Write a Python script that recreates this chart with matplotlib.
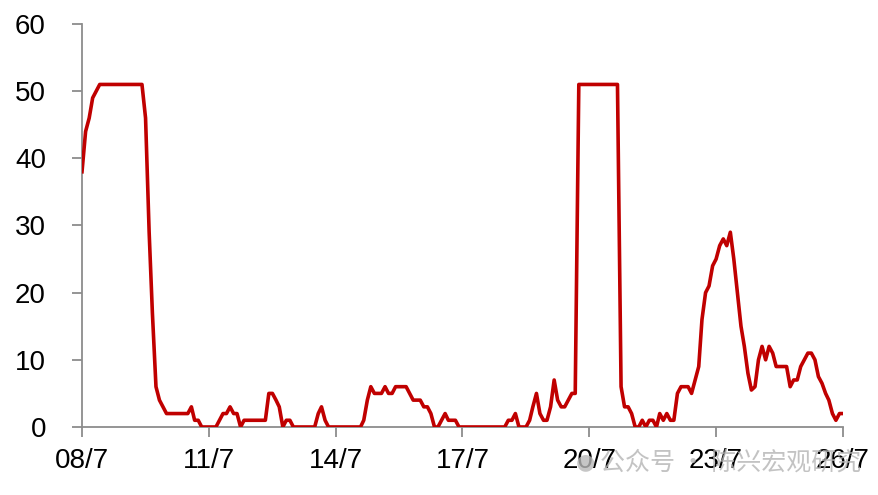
import matplotlib
matplotlib.use('Agg')
import matplotlib.pyplot as plt
import numpy as np
import pandas as pd

# monthly series, 2008-07 .. 2026-07
months = pd.date_range('2008-07-01', '2026-07-01', freq='MS')
values = [
    38, 44, 46, 49, 50, 51, 51, 51, 51, 51, 51, 51, 51, 51, 51, 51,
    51, 51, 46, 29, 17, 6, 4, 3, 2, 2, 2, 2, 2, 2, 2, 3,
    1, 1, 0, 0, 0, 0, 0, 1, 2, 2, 3, 2, 2, 0, 1, 1,
    1, 1, 1, 1, 1, 5, 5, 4, 3, 0, 1, 1, 0, 0, 0, 0,
    0, 0, 0, 2, 3, 1, 0, 0, 0, 0, 0, 0, 0, 0, 0, 0,
    1, 4, 6, 5, 5, 5, 6, 5, 5, 6, 6, 6, 6, 5, 4, 4,
    4, 3, 3, 2, 0, 0, 1, 2, 1, 1, 1, 0, 0, 0, 0, 0,
    0, 0, 0, 0, 0, 0, 0, 0, 0, 1, 1, 2, 0, 0, 0, 1,
    3, 5, 2, 1, 1, 3, 7, 4, 3, 3, 4, 5, 5, 51, 51, 51,
    51, 51, 51, 51, 51, 51, 51, 51, 51, 6, 3, 3, 2, 0,
    0, 1, 0, 1, 1, 0, 2, 1, 2, 1, 1, 5, 6, 6, 6, 5,
    7, 9, 16, 20, 21, 24, 25, 27, 28, 27, 29, 25, 20, 15, 12, 8,
    5.5, 6, 10, 12, 10, 12, 11, 9, 9, 9, 9, 6, 7, 7, 9, 10,
    11, 11, 10, 7.5, 6.5, 5, 4, 2, 1, 2, 2,
]

tick_dates = pd.to_datetime(['2008-07-01', '2011-07-01', '2014-07-01', '2017-07-01',
                             '2020-07-01', '2023-07-01', '2026-07-01'])
tick_labels = ['08/7', '11/7', '14/7', '17/7', '20/7', '23/7', '26/7']
y_ticks = [0, 10, 20, 30, 40, 50, 60]

plt.rcParams['font.family'] = ['Liberation Sans', 'DejaVu Sans']

fig = plt.figure(figsize=(8.79, 4.95), dpi=100)
ax = fig.add_axes([0.0933, 0.1374, 0.8657, 0.8141])

ax.plot(months[:len(values)], values, color='#C00000', lw=2.6, solid_joinstyle='round')

ax.set_xlim(tick_dates[0], tick_dates[-1])
ax.set_ylim(0, 60)
ax.set_xticks(tick_dates)
ax.set_xticklabels(tick_labels)
ax.set_yticks(y_ticks)

for s in ['top', 'right']:
    ax.spines[s].set_visible(False)
for s in ['left', 'bottom']:
    ax.spines[s].set_color('#8C8C8C')
    ax.spines[s].set_linewidth(1.3)
    ax.spines[s].set_zorder(0)
ax.tick_params(axis='both', colors='#8C8C8C', length=7, width=1.3, labelsize=20,
               labelcolor='black')
ax.tick_params(axis='y', pad=19)
ax.tick_params(axis='x', pad=8)

# watermark
fig.text(0.666, 0.066, '\u25CF', color='#B8B8B8', alpha=0.8, fontsize=16,
         family='DejaVu Sans', va='center', ha='center')
fig.text(0.683, 0.066, '公众号 · 陈兴宏观研究', color='#B4B4B4', alpha=0.8,
         fontsize=18, family=['Noto Sans CJK SC', 'DejaVu Sans'], va='center')

fig.savefig('out.png', dpi=100)
